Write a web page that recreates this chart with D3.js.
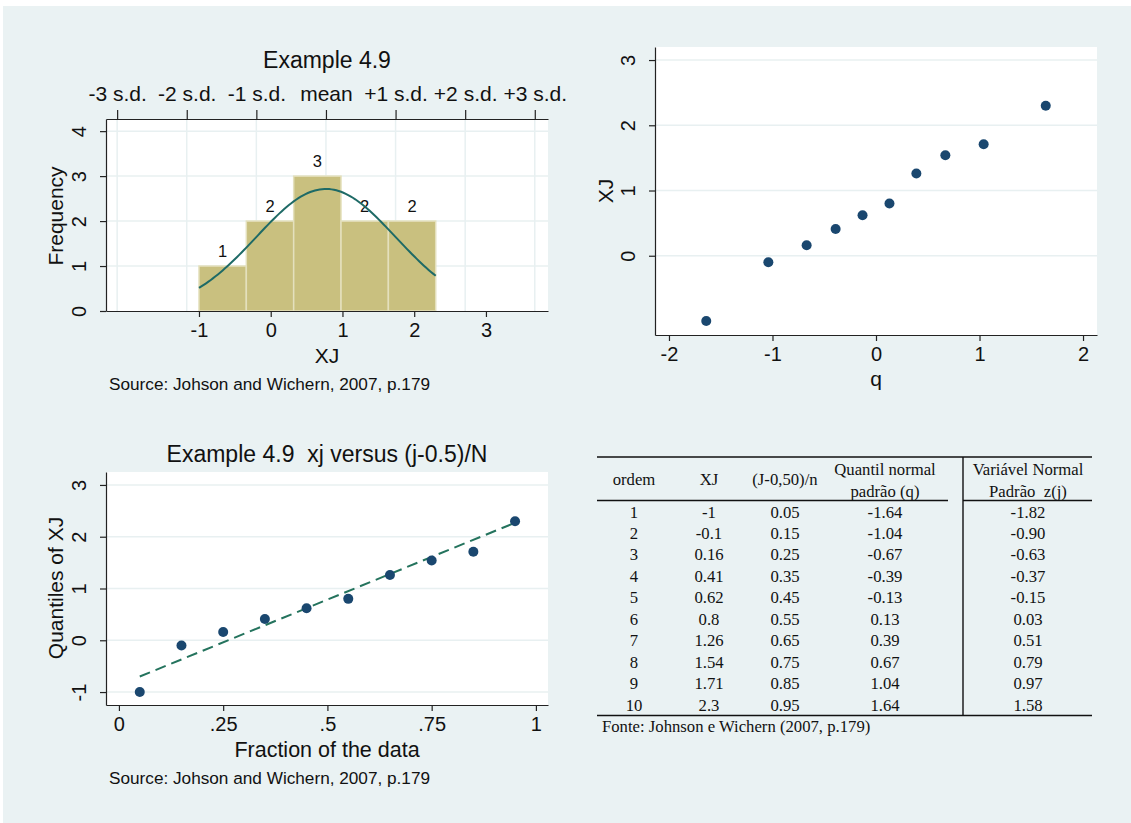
<!DOCTYPE html>
<html>
<head>
<meta charset="utf-8" />
<title>Example 4.9</title>
<script src="https://cdnjs.cloudflare.com/ajax/libs/d3/7.8.5/d3.min.js"></script>
<style>
  body { margin: 0; background: #fff; }
  svg text { font-family: "Liberation Sans", Arial, sans-serif; fill: #111; }
  .tbl text { font-family: "Liberation Serif", "Times New Roman", serif; }
</style>
</head>
<body>
<div id="chart"></div>
<script>
const ordem = [1, 2, 3, 4, 5, 6, 7, 8, 9, 10];
const xj = [-1, -0.1, 0.16, 0.41, 0.62, 0.8, 1.26, 1.54, 1.71, 2.3];
const fraction = [0.05, 0.15, 0.25, 0.35, 0.45, 0.55, 0.65, 0.75, 0.85, 0.95];
const qNormal = [-1.64, -1.04, -0.67, -0.39, -0.13, 0.13, 0.39, 0.67, 1.04, 1.64];
const zj = [-1.82, -0.9, -0.63, -0.37, -0.15, 0.03, 0.51, 0.79, 0.97, 1.58];

const binEdges = [-1, -0.34, 0.32, 0.98, 1.64, 2.3];
const binCounts = [1, 2, 3, 2, 2];
const sdLabels = ["-3 s.d.", "-2 s.d.", "-1 s.d.", "mean", "+1 s.d.", "+2 s.d.", "+3 s.d."];
const refLine = [[0.05, -0.7], [0.95, 2.27]]; // dashed reference line ends

const tableHead = ["ordem", "XJ", "(J-0,50)/n"];
const source1 = "Source: Johson and Wichern, 2007, p.179";
const fonte = "Fonte: Johnson e Wichern (2007, p.179)";

const navy = "#1a476f";
const gridCol = "#e8f0f1";
const plain = d => String(d);   // Stata style: "-1", not "−1.0"

const svg = d3.select("#chart").append("svg")
  .attr("width", 1131)
  .attr("height", 823);

svg.append("rect")
  .attr("x", 3).attr("y", 6)
  .attr("width", 1128).attr("height", 817)
  .attr("fill", "#eaf2f3");

// helper: style an axis group like Stata
function styleAxis(g) {
  g.select(".domain").attr("stroke", "#222").attr("stroke-width", 1.2);
  g.selectAll(".tick line").attr("stroke", "#222").attr("stroke-width", 1.2);
  g.selectAll(".tick text").attr("fill", "#111").attr("font-size", 20)
    .attr("font-family", "Liberation Sans, Arial, sans-serif");
}

function rotateYLabels(g) {
  g.selectAll(".tick text")
    .attr("transform", "rotate(-90)")
    .attr("x", 0).attr("y", -20).attr("dy", 0)
    .attr("text-anchor", "middle");
}

// ---------------- panel 1 : histogram ----------------
const p1 = { l: 106, r: 548, t: 119, b: 311 };
const x1 = d3.scaleLinear().domain([-2.296, 3.865]).range([p1.l, p1.r]);
const y1 = d3.scaleLinear().domain([0, 4.27]).range([p1.b, p1.t]);

const mean = d3.mean(xj);
const sd = d3.deviation(xj);
const sdTicks = d3.range(-3, 4).map(k => mean + k * sd);

svg.append("rect")
  .attr("x", p1.l).attr("y", p1.t)
  .attr("width", p1.r - p1.l).attr("height", p1.b - p1.t)
  .attr("fill", "#fff");

svg.append("g").selectAll("line.h")
  .data([1, 2, 3, 4]).join("line")
  .attr("x1", p1.l).attr("x2", p1.r)
  .attr("y1", d => y1(d)).attr("y2", d => y1(d))
  .attr("stroke", gridCol).attr("stroke-width", 1.5);

svg.append("g").selectAll("line.v")
  .data(sdTicks).join("line")
  .attr("x1", d => x1(d)).attr("x2", d => x1(d))
  .attr("y1", p1.t).attr("y2", p1.b)
  .attr("stroke", gridCol).attr("stroke-width", 1.5);

const bins = binCounts.map((c, i) => ({ x0: binEdges[i], x1: binEdges[i + 1], n: c }));

svg.append("g").selectAll("rect")
  .data(bins).join("rect")
  .attr("x", d => x1(d.x0))
  .attr("y", d => y1(d.n))
  .attr("width", d => x1(d.x1) - x1(d.x0))
  .attr("height", d => y1(0) - y1(d.n))
  .attr("fill", "#c9c07f")
  .attr("stroke", "#e4e0bd")
  .attr("stroke-width", 1.5);

svg.append("g").selectAll("text")
  .data(bins).join("text")
  .attr("x", d => x1((d.x0 + d.x1) / 2))
  .attr("y", d => y1(d.n) - 9)
  .attr("text-anchor", "middle")
  .attr("font-size", 16.5)
  .text(d => d.n);

// normal density scaled to frequency
const bw = binEdges[1] - binEdges[0];
const normPts = d3.range(0, 101).map(i => {
  const x = binEdges[0] + (binEdges[5] - binEdges[0]) * i / 100;
  const f = xj.length * bw * Math.exp(-0.5 * ((x - mean) / sd) ** 2) / (sd * Math.sqrt(2 * Math.PI));
  return [x, f];
});
svg.append("path")
  .datum(normPts)
  .attr("d", d3.line().x(d => x1(d[0])).y(d => y1(d[1])))
  .attr("fill", "none")
  .attr("stroke", "#1e6a66")
  .attr("stroke-width", 2);

svg.append("g")
  .attr("transform", `translate(0,${p1.b})`)
  .call(d3.axisBottom(x1).tickValues([-1, 0, 1, 2, 3]).tickFormat(plain).tickSize(6).tickPadding(6).tickSizeOuter(0))
  .call(styleAxis);

svg.append("g")
  .attr("transform", `translate(${p1.l},0)`)
  .call(d3.axisLeft(y1).tickValues([0, 1, 2, 3, 4]).tickFormat(plain).tickSize(6).tickSizeOuter(0))
  .call(styleAxis)
  .call(rotateYLabels);

svg.append("g")
  .attr("transform", `translate(0,${p1.t})`)
  .call(d3.axisTop(x1).tickValues(sdTicks).tickFormat((d, i) => sdLabels[i]).tickSize(9).tickPadding(9).tickSizeOuter(0))
  .call(styleAxis)
  .call(g => g.selectAll(".tick text").attr("font-size", 21));

svg.append("text").attr("x", 327).attr("y", 68).attr("text-anchor", "middle")
  .attr("font-size", 23).text("Example 4.9");
svg.append("text").attr("x", 327).attr("y", 363).attr("text-anchor", "middle")
  .attr("font-size", 21).text("XJ");
svg.append("text").attr("transform", "translate(63,216) rotate(-90)").attr("text-anchor", "middle")
  .attr("font-size", 21).text("Frequency");
svg.append("text").attr("x", 109).attr("y", 390)
  .attr("font-size", 17.2).text(source1);

// ---------------- panel 2 : XJ vs q ----------------
const p2 = { l: 655, r: 1097, t: 47, b: 335 };
const x2 = d3.scaleLinear().domain([-2.135, 2.135]).range([p2.l, p2.r]);
const y2 = d3.scaleLinear().domain([-1.215, 3.2]).range([p2.b, p2.t]);

svg.append("rect")
  .attr("x", p2.l).attr("y", p2.t)
  .attr("width", p2.r - p2.l).attr("height", p2.b - p2.t)
  .attr("fill", "#fff");

svg.append("g").selectAll("line")
  .data([0, 1, 2, 3]).join("line")
  .attr("x1", p2.l).attr("x2", p2.r)
  .attr("y1", d => y2(d)).attr("y2", d => y2(d))
  .attr("stroke", gridCol).attr("stroke-width", 1.5);

svg.append("g").selectAll("circle")
  .data(qNormal).join("circle")
  .attr("cx", d => x2(d))
  .attr("cy", (d, i) => y2(xj[i]))
  .attr("r", 5)
  .attr("fill", navy);

svg.append("g")
  .attr("transform", `translate(0,${p2.b})`)
  .call(d3.axisBottom(x2).tickValues([-2, -1, 0, 1, 2]).tickFormat(plain).tickSize(6).tickPadding(6).tickSizeOuter(0))
  .call(styleAxis);

svg.append("g")
  .attr("transform", `translate(${p2.l},0)`)
  .call(d3.axisLeft(y2).tickValues([0, 1, 2, 3]).tickFormat(plain).tickSize(6).tickSizeOuter(0))
  .call(styleAxis)
  .call(rotateYLabels);

svg.append("text").attr("x", 876).attr("y", 386).attr("text-anchor", "middle")
  .attr("font-size", 21).text("q");
svg.append("text").attr("transform", "translate(613,191) rotate(-90)").attr("text-anchor", "middle")
  .attr("font-size", 21).text("XJ");

// ---------------- panel 3 : quantile plot ----------------
const p3 = { l: 106, r: 548, t: 472, b: 705 };
const x3 = d3.scaleLinear().domain([-0.031, 1.029]).range([p3.l, p3.r]);
const y3 = d3.scaleLinear().domain([-1.25, 3.25]).range([p3.b, p3.t]);

svg.append("rect")
  .attr("x", p3.l).attr("y", p3.t)
  .attr("width", p3.r - p3.l).attr("height", p3.b - p3.t)
  .attr("fill", "#fff");

svg.append("g").selectAll("line")
  .data([-1, 0, 1, 2, 3]).join("line")
  .attr("x1", p3.l).attr("x2", p3.r)
  .attr("y1", d => y3(d)).attr("y2", d => y3(d))
  .attr("stroke", gridCol).attr("stroke-width", 1.5);

svg.append("path")
  .datum(refLine)
  .attr("d", d3.line().x(d => x3(d[0])).y(d => y3(d[1])))
  .attr("fill", "none")
  .attr("stroke", "#24735d")
  .attr("stroke-width", 2)
  .attr("stroke-dasharray", "11,6");

svg.append("g").selectAll("circle")
  .data(fraction).join("circle")
  .attr("cx", d => x3(d))
  .attr("cy", (d, i) => y3(xj[i]))
  .attr("r", 5)
  .attr("fill", navy);

svg.append("g")
  .attr("transform", `translate(0,${p3.b})`)
  .call(d3.axisBottom(x3).tickValues([0, 0.25, 0.5, 0.75, 1])
    .tickFormat(d => String(d).replace(/^0\./, "."))
    .tickSize(6).tickPadding(6).tickSizeOuter(0))
  .call(styleAxis);

svg.append("g")
  .attr("transform", `translate(${p3.l},0)`)
  .call(d3.axisLeft(y3).tickValues([-1, 0, 1, 2, 3]).tickFormat(plain).tickSize(6).tickSizeOuter(0))
  .call(styleAxis)
  .call(rotateYLabels);

svg.append("text").attr("x", 327).attr("y", 462).attr("text-anchor", "middle")
  .attr("font-size", 23).style("white-space", "pre").text("Example 4.9  xj versus (j-0.5)/N");
svg.append("text").attr("x", 327).attr("y", 757).attr("text-anchor", "middle")
  .attr("font-size", 21.5).text("Fraction of the data");
svg.append("text").attr("transform", "translate(63,588) rotate(-90)").attr("text-anchor", "middle")
  .attr("font-size", 21).text("Quantiles of XJ");
svg.append("text").attr("x", 109).attr("y", 784)
  .attr("font-size", 17.2).text(source1);

// ---------------- panel 4 : table ----------------
const tbl = svg.append("g").attr("class", "tbl");
const colX = [634, 709, 785, 885, 1028];
const rowY = d3.scaleLinear().domain([1, 10]).range([517.5, 710.5]);
const fmt2 = d => d.toFixed(2);
const fs = 16.7;

const rule = (xa, xb, y) => tbl.append("line")
  .attr("x1", xa).attr("x2", xb).attr("y1", y).attr("y2", y)
  .attr("stroke", "#111").attr("stroke-width", 1.6);
rule(597, 1092, 457);
rule(597, 948, 500.5);
rule(963, 1092, 500.5);
rule(597, 1092, 715.5);
tbl.append("line").attr("x1", 963).attr("x2", 963).attr("y1", 457).attr("y2", 715.5)
  .attr("stroke", "#111").attr("stroke-width", 1.4);

tbl.selectAll("text.h").data(tableHead).join("text")
  .attr("x", (d, i) => colX[i]).attr("y", 485)
  .attr("text-anchor", "middle").attr("font-size", fs).text(d => d);
tbl.append("text").attr("x", colX[3]).attr("y", 475).attr("text-anchor", "middle")
  .attr("font-size", fs).text("Quantil normal");
tbl.append("text").attr("x", colX[3]).attr("y", 497).attr("text-anchor", "middle")
  .attr("font-size", fs).text("padrão (q)");
tbl.append("text").attr("x", colX[4]).attr("y", 475).attr("text-anchor", "middle")
  .attr("font-size", fs).text("Variável Normal");
tbl.append("text").attr("x", colX[4]).attr("y", 497).attr("text-anchor", "middle")
  .attr("font-size", fs).style("white-space", "pre").text("Padrão  z(j)");

const rows = ordem.map((o, i) => [String(o), String(xj[i]), String(fraction[i]), fmt2(qNormal[i]), fmt2(zj[i])]);
rows.forEach((r, i) => {
  tbl.selectAll(null).data(r).join("text")
    .attr("x", (d, j) => colX[j]).attr("y", rowY(ordem[i]))
    .attr("text-anchor", "middle").attr("font-size", fs)
    .text(d => d);
});

tbl.append("text").attr("x", 602).attr("y", 732).attr("font-size", fs).text(fonte);
</script>
</body>
</html>
